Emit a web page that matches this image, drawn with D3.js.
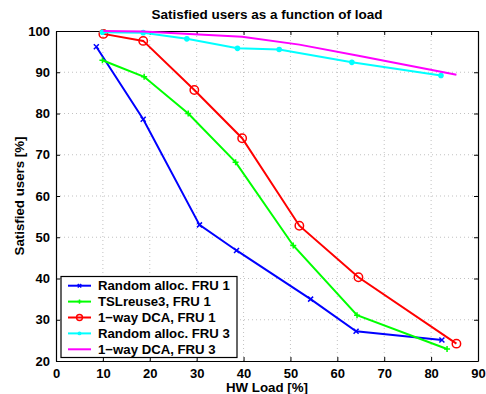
<!DOCTYPE html>
<html>
<head>
<meta charset="utf-8">
<script src="https://cdn.jsdelivr.net/npm/d3@7"></script>
<style>
  body { margin: 0; background: #fff; }
  text { font-family: "Liberation Sans", Arial, sans-serif; font-weight: bold; }
</style>
</head>
<body>
<svg id="chart" width="486" height="394"></svg>
<script>
// data
var seriesNames = ["Random alloc. FRU 1", "TSLreuse3, FRU 1", "1\u2212way DCA, FRU 1", "Random alloc. FRU 3", "1\u2212way DCA, FRU 3"];
var seriesColors = ["#0000ff", "#00ff00", "#ff0000", "#00ffff", "#ff00ff"];
var seriesMarkers = ["x", "+", "o", ".", "none"];

var loadRandom1 = [8.6, 18.6, 30.6, 38.5, 54.3, 64.0, 82.3];
var usersRandom1 = [96.2, 78.6, 53.0, 46.8, 35.0, 27.2, 25.1];
var loadTsl1 = [9.9, 18.8, 28.2, 38.3, 50.6, 64.2, 83.4];
var usersTsl1 = [92.9, 88.9, 80.0, 68.2, 48.0, 31.1, 22.9];
var loadDca1 = [10.1, 18.6, 29.5, 39.7, 51.9, 64.5, 85.4];
var usersDca1 = [99.3, 97.6, 85.7, 74.0, 52.8, 40.3, 24.2];
var loadRandom3 = [9.9, 18.6, 27.9, 38.7, 47.6, 63.1, 82.1];
var usersRandom3 = [99.7, 99.6, 98.1, 95.8, 95.5, 92.4, 89.2];
var loadDca3 = [10.1, 18.6, 29.5, 39.7, 51.9, 64.5, 85.4];
var usersDca3 = [100, 99.9, 99.2, 98.6, 96.7, 94.0, 89.4];

var xTicks = [0, 10, 20, 30, 40, 50, 60, 70, 80, 90];
var yTicks = [20, 30, 40, 50, 60, 70, 80, 90, 100];

var loads = [loadRandom1, loadTsl1, loadDca1, loadRandom3, loadDca3];
var users = [usersRandom1, usersTsl1, usersDca1, usersRandom3, usersDca3];

var margin = {left: 56, top: 31, right: 8, bottom: 33};
var W = 486, H = 394;
var svg = d3.select("#chart");
var x = d3.scaleLinear().domain([0, 90]).range([margin.left, W - margin.right]);
var y = d3.scaleLinear().domain([20, 100]).range([H - margin.bottom, margin.top]);

var g = svg.append("g");

// grid
g.append("g").selectAll("line").data(xTicks.slice(1, -1)).enter().append("line")
  .attr("x1", function(d) { return x(d); }).attr("x2", function(d) { return x(d); })
  .attr("y1", y(20)).attr("y2", y(100))
  .attr("stroke", "#999").attr("stroke-width", 0.6).attr("stroke-dasharray", "1,3");
g.append("g").selectAll("line").data(yTicks.slice(1, -1)).enter().append("line")
  .attr("y1", function(d) { return y(d); }).attr("y2", function(d) { return y(d); })
  .attr("x1", x(0)).attr("x2", x(90))
  .attr("stroke", "#999").attr("stroke-width", 0.6).attr("stroke-dasharray", "1,3");

// axes, ticks inward
var xAxis = g.append("g").attr("transform", "translate(0," + y(20) + ")")
  .call(d3.axisBottom(x).tickValues(xTicks).tickSizeInner(-4).tickSizeOuter(0).tickPadding(8));
var xAxisTop = g.append("g").attr("transform", "translate(0," + y(100) + ")")
  .call(d3.axisTop(x).tickValues(xTicks).tickSizeInner(-4).tickSizeOuter(0).tickFormat(""));
var yAxis = g.append("g").attr("transform", "translate(" + x(0) + ",0)")
  .call(d3.axisLeft(y).tickValues(yTicks).tickSizeInner(-4).tickSizeOuter(0).tickPadding(6));
var yAxisRight = g.append("g").attr("transform", "translate(" + x(90) + ",0)")
  .call(d3.axisRight(y).tickValues(yTicks).tickSizeInner(-4).tickSizeOuter(0).tickFormat(""));
[xAxis, xAxisTop, yAxis, yAxisRight].forEach(function(a) {
  a.select(".domain").attr("stroke", "#000").attr("stroke-width", 1.2);
  a.selectAll(".tick line").attr("stroke", "#000");
  a.selectAll("text").attr("font-size", 13).attr("fill", "#000")
    .style("font-family", "'Liberation Sans', Arial, sans-serif").style("font-weight", "bold");
});

function drawMarker(sel, kind, color, cx, cy, k) {
  k = k || 1;
  if (kind === "x") {
    var a = 2.5 * k;
    sel.append("path").attr("d", "M" + (cx - a) + "," + (cy - a) + "L" + (cx + a) + "," + (cy + a) +
      "M" + (cx - a) + "," + (cy + a) + "L" + (cx + a) + "," + (cy - a))
      .attr("stroke", color).attr("stroke-width", 1.5);
  } else if (kind === "+") {
    var b = 3 * k;
    sel.append("path").attr("d", "M" + (cx - b) + "," + cy + "L" + (cx + b) + "," + cy +
      "M" + cx + "," + (cy - b) + "L" + cx + "," + (cy + b))
      .attr("stroke", color).attr("stroke-width", 1.5);
  } else if (kind === "o") {
    sel.append("circle").attr("cx", cx).attr("cy", cy).attr("r", 4.2 * k)
      .attr("fill", "none").attr("stroke", color).attr("stroke-width", 1.5);
  } else if (kind === ".") {
    sel.append("circle").attr("cx", cx).attr("cy", cy).attr("r", 2.8 * k).attr("fill", color);
  }
}

var line = d3.line().x(function(d) { return x(d[0]); }).y(function(d) { return y(d[1]); });

seriesNames.forEach(function(name, i) {
  var pts = d3.zip(loads[i], users[i]);
  var s = g.append("g");
  s.append("path").datum(pts).attr("d", line)
    .attr("fill", "none").attr("stroke", seriesColors[i]).attr("stroke-width", 2);
  pts.forEach(function(p) { drawMarker(s, seriesMarkers[i], seriesColors[i], x(p[0]), y(p[1])); });
});

// title and labels
svg.append("text").attr("x", (x(0) + x(90)) / 2).attr("y", 19).attr("text-anchor", "middle")
  .attr("font-size", 13.5).text("Satisfied users as a function of load");
svg.append("text").attr("x", (x(0) + x(90)) / 2).attr("y", 392).attr("text-anchor", "middle")
  .attr("font-size", 13.3).text("HW Load [%]");
svg.append("text").attr("transform", "translate(24," + ((y(20) + y(100)) / 2) + ") rotate(-90)")
  .attr("text-anchor", "middle").attr("font-size", 13.3).text("Satisfied users [%]");

// legend
var leg = svg.append("g");
leg.append("rect").attr("x", 61).attr("y", 276.5).attr("width", 176).attr("height", 81)
  .attr("fill", "#fff").attr("stroke", "#000").attr("stroke-width", 1.2);
seriesNames.forEach(function(name, i) {
  var ly = 285.7 + i * 15.9;
  leg.append("line").attr("x1", 68).attr("x2", 91).attr("y1", ly).attr("y2", ly)
    .attr("stroke", seriesColors[i]).attr("stroke-width", 2);
  drawMarker(leg, seriesMarkers[i], seriesColors[i], 79.5, ly, 0.7);
  leg.append("text").attr("x", 98).attr("y", ly + 4.7).attr("font-size", 13.2).text(name);
});
</script>
</body>
</html>
